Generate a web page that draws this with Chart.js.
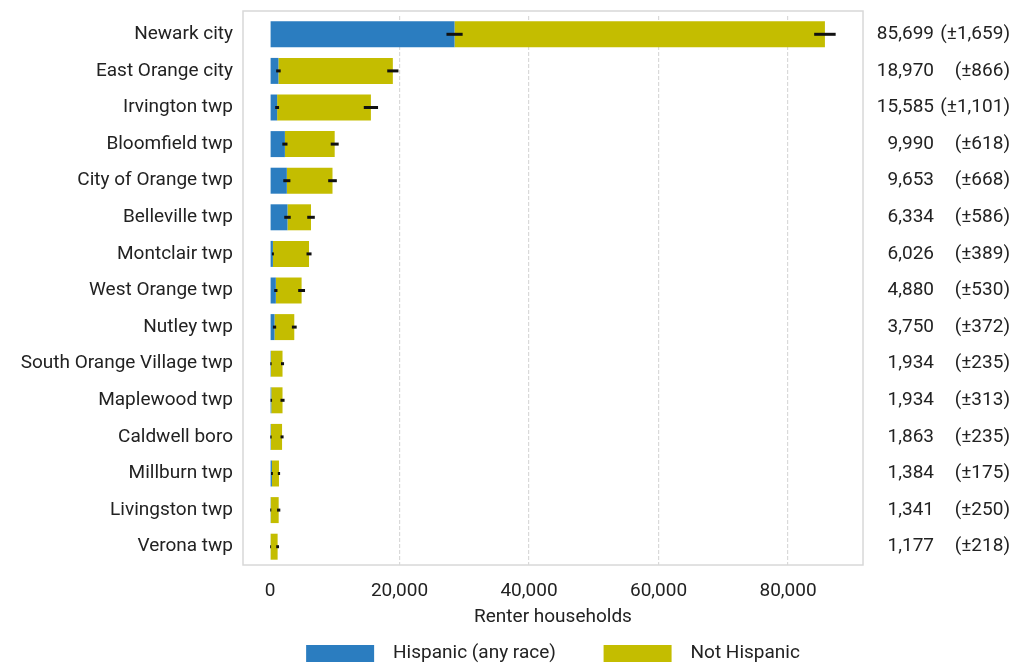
<!DOCTYPE html>
<html>
<head>
<meta charset="utf-8">
<script src="https://cdn.jsdelivr.net/npm/chart.js@4/dist/chart.umd.min.js"></script>
<style>
  html, body { margin: 0; padding: 0; background: #fff; }
  #wrap { width: 1014px; height: 668px; }
</style>
</head>
<body>
<div id="wrap"><canvas id="chart"></canvas></div>
<script>
const places = [
    'Newark city', 'East Orange city', 'Irvington twp', 'Bloomfield twp',
    'City of Orange twp', 'Belleville twp', 'Montclair twp', 'West Orange twp',
    'Nutley twp', 'South Orange Village twp', 'Maplewood twp', 'Caldwell boro',
    'Millburn twp', 'Livingston twp', 'Verona twp'
];
// renter households
const hispanic = [28500, 1300, 1100, 2300, 2600, 2700, 450, 900, 700, 150, 200, 150, 300, 120, 100];
const hispanicMoe = [1250, 350, 300, 400, 550, 500, 150, 250, 250, 100, 120, 100, 150, 80, 70];
const notHispanic = [57199, 17670, 14485, 7690, 7053, 3634, 5576, 3980, 3050, 1784, 1734, 1713, 1084, 1221, 1077];
// totals as printed at the right
const totals = [85699, 18970, 15585, 9990, 9653, 6334, 6026, 4880, 3750, 1934, 1934, 1863, 1384, 1341, 1177];
const totalMoe = [1659, 866, 1101, 618, 668, 586, 389, 530, 372, 235, 313, 235, 175, 250, 218];
const xTicks = [0, 20000, 40000, 60000, 80000];

const BLUE = '#2b7dc0';
const OLIVE = '#c4bd00';
const TEXT = '#222';
const fmt = v => v.toLocaleString('en-US');

Chart.defaults.font.family = 'Roboto, "DejaVu Sans", sans-serif';
Chart.defaults.font.size = 19;
Chart.defaults.color = TEXT;

// light frame around the plot
const frame = {
    id: 'frame',
    beforeDatasetsDraw(chart) {
        const { ctx, chartArea: a } = chart;
        ctx.save();
        ctx.strokeStyle = '#d8d8d8';
        ctx.lineWidth = 1.5;
        ctx.strokeRect(a.left, a.top - 5, a.right - a.left, a.bottom - a.top + 5);
        ctx.restore();
    }
};

// margin-of-error whiskers at the end of each segment
const errorBars = {
    id: 'errorBars',
    afterDatasetsDraw(chart) {
        const { ctx } = chart;
        const xs = chart.scales.x;
        const unit = v => xs.getPixelForValue(v) - xs.getPixelForValue(0);
        const moes = [hispanicMoe, totalMoe];
        ctx.save();
        ctx.strokeStyle = '#111';
        ctx.lineWidth = 3;
        moes.forEach((moe, d) => {
            chart.getDatasetMeta(d).data.forEach((bar, i) => {
                const half = unit(moe[i]);
                ctx.beginPath();
                ctx.moveTo(bar.x - half, bar.y);
                ctx.lineTo(bar.x + half, bar.y);
                ctx.stroke();
            });
        });
        ctx.restore();
    }
};

// total and MOE columns on the right
const totalLabels = {
    id: 'totalLabels',
    afterDraw(chart) {
        const { ctx, chartArea: a } = chart;
        const ys = chart.scales.y;
        ctx.save();
        ctx.font = '19px Roboto, "DejaVu Sans", sans-serif';
        ctx.fillStyle = TEXT;
        ctx.textBaseline = 'middle';
        ctx.textAlign = 'right';
        totals.forEach((t, i) => {
            const y = ys.getPixelForValue(i);
            ctx.fillText(fmt(t), a.right + 71, y);
            ctx.fillText('(±' + fmt(totalMoe[i]) + ')', chart.width - 4, y);
        });
        ctx.restore();
    }
};

// centre the legend under the plot frame rather than the whole canvas
const legendShift = {
    id: 'legendShift',
    afterLayout(chart) {
        if (chart.legend) chart.legend.left += 92;
    }
};

new Chart(document.getElementById('chart'), {
    type: 'bar',
    data: {
        labels: places,
        datasets: [
            { label: 'Hispanic (any race)', data: hispanic, backgroundColor: BLUE },
            { label: 'Not Hispanic', data: notHispanic, backgroundColor: OLIVE }
        ]
    },
    options: {
        indexAxis: 'y',
        responsive: true,
        maintainAspectRatio: false,
        animation: false,
        barPercentage: 0.71,
        categoryPercentage: 1,
        layout: { padding: { left: 0, right: 0, top: 16, bottom: -5 } },
        scales: {
            x: {
                stacked: true,
                min: -4170,
                max: 91580,
                afterBuildTicks(scale) {
                    scale.ticks = xTicks.map(v => ({ value: v }));
                },
                afterFit(scale) { scale.height = 69; },
                ticks: { padding: 15, callback: v => fmt(v), maxRotation: 0 },
                grid: {
                    drawTicks: false,
                    color: ctx => (ctx.tick && ctx.tick.value === 0) ? 'rgba(0,0,0,0)' : '#d9d9d9',
                    lineWidth: 1.2
                },
                border: { display: false, dash: [4, 2] },
                title: {
                    display: true,
                    text: 'Renter households',
                    padding: { top: 0, bottom: 5 }
                }
            },
            y: {
                stacked: true,
                afterFit(scale) {
                    scale.width = 243;
                    scale.paddingTop = 0;
                    scale.paddingBottom = 0;
                },
                ticks: { padding: 10 },
                grid: { display: false, drawTicks: false },
                border: { display: false }
            },
            yRight: {
                type: 'category',
                position: 'right',
                afterFit(scale) {
                    scale.width = 151;
                    scale.paddingTop = 0;
                    scale.paddingBottom = 0;
                },
                ticks: { display: false },
                grid: { display: false, drawTicks: false },
                border: { display: false }
            }
        },
        plugins: {
            legend: {
                position: 'bottom',
                labels: {
                    boxWidth: 68,
                    boxHeight: 17,
                    padding: 10,
                    generateLabels(chart) {
                        const items = Chart.defaults.plugins.legend.labels.generateLabels(chart);
                        items.forEach((it, i) => {
                            it.text = '  ' + it.text + (i === 0 ? '        ' : '');
                            it.lineWidth = 0;
                        });
                        return items;
                    }
                }
            },
            tooltip: { enabled: false }
        }
    },
    plugins: [frame, errorBars, totalLabels, legendShift]
});
</script>
</body>
</html>
